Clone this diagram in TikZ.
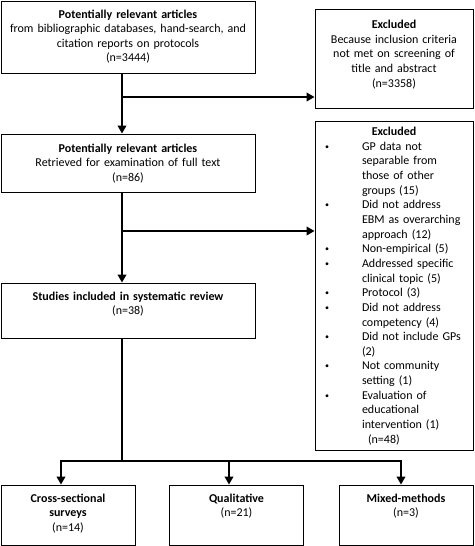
\documentclass[tikz,border=0pt]{standalone}
\usepackage{fontspec}
\setmainfont{Carlito}
\usetikzlibrary{arrows.meta}
\tikzstyle{box} = [rectangle, draw=black, fill=white, line width=0.8pt, text centered, inner xsep=0pt, inner ysep=4pt, text height=13pt]
\tikzstyle{result} = [box, text width=134pt, text depth=39pt]
\tikzstyle{listbox} = [rectangle, draw=black, fill=white, line width=0.8pt, align=left, inner xsep=6pt, inner ysep=0pt, minimum height=329pt, text width=146pt]
\tikzstyle{arrow} = [line width=2pt,->,>={Triangle[length=8pt,width=8.5pt]}]
\tikzstyle{line} = [line width=2pt]
\newcommand{\exbul}{\makebox[41pt][l]{\hspace*{4pt}\smash{\raisebox{1pt}{\fontsize{8}{8}\selectfont\textbullet}}}}
\newcommand{\exind}{\hspace*{41pt}}

\begin{document}
\begin{tikzpicture}[x=1pt, y=1pt, font=\fontsize{12}{14.65}\selectfont]
\useasboundingbox (0,0) rectangle (474,-546);

\node (articles) [box, text width=254pt, text depth=51pt] at (128,-37) {\textbf{Potentially relevant articles}\\ from bibliographic databases, hand-search, and\\ citation reports on protocols\\ (n=3444)};
\node (screened) [box, text width=158pt, text depth=76pt, text height=15pt] at (394,-59) {\textbf{Excluded}\\ Because inclusion criteria\\ not met on screening of\\ title and abstract\\ (n=3358)};
\node (retrieved) [box, text width=254pt, text depth=36pt, text height=14pt] at (128,-163) {\textbf{Potentially relevant articles}\\ Retrieved for examination of full text\\ (n=86)};
\node (fulltext) [listbox] at (394,-286) {%
\hspace*{\fill}\textbf{Excluded}\hspace*{\fill}\hbox{}\\
\exbul GP data not\\
\exind separable from\\
\exind those of other\\
\exind groups (15)\\
\exbul Did not address\\
\exind EBM as overarching\\
\exind approach (12)\\
\exbul Non-empirical (5)\\
\exbul Addressed specific\\
\exind clinical topic (5)\\
\exbul Protocol (3)\\
\exbul Did not address\\
\exind competency (4)\\
\exbul Did not include GPs\\
\exind (2)\\
\exbul Not community\\
\exind setting (1)\\
\exbul Evaluation of\\
\exind educational\\
\exind intervention (1)\\
\exind\hspace*{6pt}(n=48)};
\node (included) [box, text width=254pt, text depth=34pt] at (128,-310.5) {\textbf{Studies included in systematic review}\\ (n=38)};

\node (cross) [result] at (68,-515) {\textbf{Cross-sectional}\\ \textbf{surveys}\\ (n=14)};
\node (qual) [result] at (236.5,-515) {\textbf{Qualitative}\\ (n=21)};
\node (mixed) [result] at (406,-515) {\textbf{Mixed-methods}\\ (n=3)};

% main line
\coordinate (trunk1) at ([xshift=-6pt]articles.south);
\coordinate (trunk2) at ([xshift=-6pt]retrieved.south);
\coordinate (split1) at (122,-97);
\coordinate (split2) at (122,-231);
\coordinate (fork) at (122,-461);
\draw [arrow] (trunk1) -- (trunk1 |- retrieved.north);
\draw [arrow] (split1) -- (split1 -| screened.west);
\draw [arrow] (trunk2) -- (trunk2 |- included.north);
\draw [arrow] (split2) -- (split2 -| fulltext.west);

% split into study types
\draw [line] ([xshift=-6pt]included.south) -- (fork);
\draw [arrow] (fork) -| ([xshift=-7pt]cross.north);
\draw [arrow] (fork) -| ([xshift=-7.5pt]qual.north);
\draw [arrow] (fork) -| ([xshift=-5pt]mixed.north);

\end{tikzpicture}
\end{document}
